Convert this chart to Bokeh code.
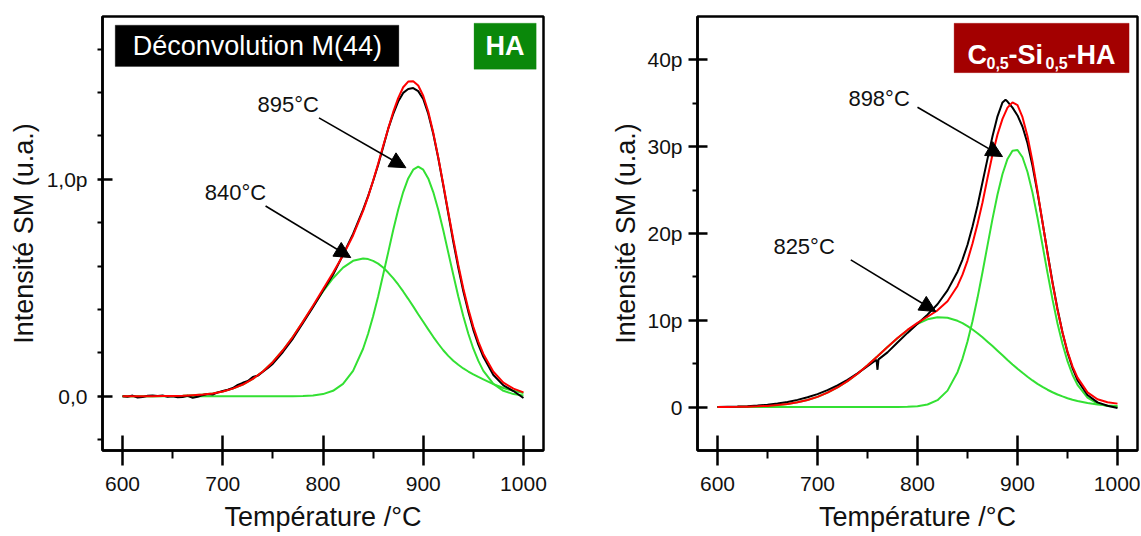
from bokeh.plotting import figure
from bokeh.models import Range1d, FixedTicker, Label, Arrow, NormalHead, BoxAnnotation
from bokeh.layouts import row
from bokeh.embed import file_html
from bokeh.resources import INLINE

FONT = "Liberation Sans"

# ---------------- data ----------------
temperature = [600, 610, 620, 630, 640, 650, 660, 670, 680, 690, 700, 710, 720, 730, 740,
               750, 760, 770, 780, 790, 800, 810, 820, 830, 840, 845, 850, 855, 860, 865,
               870, 875, 880, 885, 890, 895, 900, 905, 910, 915, 920, 925, 930, 935, 940,
               945, 950, 955, 960, 970, 980, 990, 1000]

# HA panel (pico units)
ha_peak840 = [0.000, 0.000, 0.000, 0.000, 0.001, 0.001, 0.002, 0.005, 0.008, 0.013, 0.022, 0.035,
              0.054, 0.080, 0.114, 0.158, 0.212, 0.274, 0.343, 0.414, 0.483, 0.544, 0.593, 0.624,
              0.635, 0.632, 0.624, 0.611, 0.593, 0.570, 0.544, 0.515, 0.483, 0.449, 0.414, 0.378,
              0.343, 0.308, 0.274, 0.242, 0.212, 0.186, 0.164, 0.145, 0.128, 0.114, 0.101, 0.089,
              0.078, 0.056, 0.038, 0.025, 0.015]
ha_peak895 = [0.000, 0.000, 0.000, 0.000, 0.000, 0.000, 0.000, 0.000, 0.000, 0.000, 0.000, 0.000,
              0.000, 0.000, 0.000, 0.000, 0.000, 0.000, 0.001, 0.003, 0.010, 0.025, 0.057, 0.117,
              0.219, 0.288, 0.369, 0.460, 0.560, 0.662, 0.765, 0.859, 0.941, 1.004, 1.044, 1.058,
              1.044, 1.004, 0.941, 0.859, 0.765, 0.662, 0.560, 0.460, 0.369, 0.288, 0.219, 0.163,
              0.117, 0.057, 0.025, 0.010, 0.003]
ha_fit = [0.000, 0.000, 0.000, 0.000, 0.001, 0.001, 0.002, 0.005, 0.008, 0.013, 0.022, 0.035,
          0.054, 0.080, 0.114, 0.158, 0.212, 0.274, 0.344, 0.417, 0.493, 0.569, 0.650, 0.741,
          0.854, 0.920, 0.993, 1.071, 1.153, 1.232, 1.309, 1.374, 1.424, 1.450, 1.452, 1.432,
          1.385, 1.312, 1.215, 1.101, 0.977, 0.848, 0.724, 0.605, 0.497, 0.402, 0.320, 0.252,
          0.195, 0.113, 0.063, 0.035, 0.018]
ha_meas_temp = [600, 605, 610, 615, 620, 625, 630, 635, 640, 645, 650, 655, 660, 665, 670, 675,
                680, 685, 690, 695, 700, 705, 710, 715, 720, 725, 730, 735, 740, 745, 750, 755,
                760, 770, 780, 790, 800, 810, 820, 830, 840, 845, 850, 855, 860, 865, 870, 875,
                880, 885, 890, 895, 900, 905, 910, 915, 920, 925, 930, 935, 940, 945, 950, 955,
                960, 970, 980, 990, 1000]
ha_meas = [0.000, -0.002, 0.003, -0.006, -0.004, 0.002, 0.004, 0.001, 0.003, -0.002, 0.000, -0.005,
           -0.003, 0.002, -0.007, -0.002, 0.005, 0.010, 0.008, 0.018, 0.024, 0.030, 0.038, 0.052,
           0.062, 0.070, 0.089, 0.095, 0.113, 0.130, 0.150, 0.177, 0.204, 0.266, 0.338, 0.410,
           0.486, 0.560, 0.652, 0.748, 0.860, 0.922, 0.992, 1.066, 1.148, 1.232, 1.300, 1.358,
           1.398, 1.416, 1.420, 1.406, 1.370, 1.302, 1.210, 1.098, 0.972, 0.842, 0.712, 0.592,
           0.484, 0.390, 0.306, 0.238, 0.182, 0.098, 0.050, 0.024, -0.008]

# C0,5-Si0,5-HA panel (pico units)
csi_peak825 = [0.01, 0.02, 0.03, 0.05, 0.09, 0.14, 0.23, 0.36, 0.55, 0.82, 1.18, 1.66, 2.26, 2.99,
               3.85, 4.82, 5.86, 6.92, 7.94, 8.86, 9.60, 10.11, 10.35, 10.29, 9.94, 9.67, 9.33,
               8.94, 8.51, 8.04, 7.54, 7.03, 6.50, 5.97, 5.43, 4.92, 4.43, 3.95, 3.50, 3.07, 2.68,
               2.33, 2.00, 1.71, 1.45, 1.23, 1.02, 0.85, 0.70, 0.47, 0.30, 0.19, 0.12]
csi_peak898 = [0.00, 0.00, 0.00, 0.00, 0.00, 0.00, 0.00, 0.00, 0.00, 0.00, 0.00, 0.00, 0.00, 0.00,
               0.00, 0.00, 0.00, 0.00, 0.01, 0.03, 0.10, 0.30, 0.80, 1.90, 4.02, 5.59, 7.55, 9.90,
               12.59, 15.54, 18.63, 21.68, 24.49, 26.86, 28.59, 29.54, 29.62, 28.78, 27.08, 24.71,
               21.81, 18.66, 15.47, 12.41, 9.64, 7.26, 5.29, 3.73, 2.56, 1.09, 0.41, 0.13, 0.04]
csi_fit = [0.01, 0.02, 0.03, 0.05, 0.09, 0.14, 0.23, 0.36, 0.55, 0.82, 1.18, 1.66, 2.26, 2.99,
           3.85, 4.82, 5.86, 6.92, 7.95, 8.89, 9.70, 10.41, 11.15, 12.19, 13.96, 15.26, 16.88,
           18.84, 21.10, 23.58, 26.40, 29.10, 31.40, 33.20, 34.50, 35.10, 34.80, 33.40, 31.20,
           28.30, 24.90, 21.30, 17.70, 14.30, 11.20, 8.60, 6.40, 4.70, 3.40, 1.70, 0.90, 0.55, 0.40]
csi_meas_temp = [600, 610, 620, 630, 640, 650, 660, 670, 680, 690, 700, 710, 720, 730, 740, 750,
                 759, 760, 761, 770, 780, 790, 800, 810, 820, 830, 840, 845, 850, 855, 860, 865,
                 870, 875, 880, 885, 888, 890, 895, 900, 905, 910, 915, 920, 925, 930, 935, 940,
                 945, 950, 955, 960, 970, 980, 990, 1000]
csi_meas = [0.00, 0.03, 0.06, 0.11, 0.18, 0.28, 0.41, 0.59, 0.83, 1.13, 1.50, 1.95, 2.50, 3.14,
            3.88, 4.70, 5.45, 4.30, 5.50, 6.30, 7.45, 8.55, 9.60, 10.65, 11.85, 13.45, 15.60,
            17.00, 18.70, 20.80, 23.20, 25.90, 28.60, 31.20, 33.50, 35.10, 35.40, 35.20, 34.50,
            33.60, 32.30, 30.40, 27.80, 24.70, 21.30, 17.80, 14.40, 11.30, 8.60, 6.30, 4.50, 3.10,
            1.40, 0.55, 0.15, -0.10]

x_ticks = [600, 700, 800, 900, 1000]
x_minor = [650, 750, 850, 950]
ha_y_ticks = [0, 1]
ha_y_minor = [-0.2, 0.2, 0.4, 0.6, 0.8, 1.2, 1.4, 1.6]
ha_y_labels = {0: "0,0", 1: "1,0p"}
csi_y_ticks = [0, 10, 20, 30, 40]
csi_y_minor = [5, 15, 25, 35]
csi_y_labels = {0: "0", 10: "10p", 20: "20p", 30: "30p", 40: "40p"}

GREEN = "#33e033"
RED = "#ff0000"


def make_panel(width, border_left, border_right, y_range, y_ticks, y_minor, y_labels,
               tick_out, tick_standoff, axis_label_standoff):
    p = figure(width=width, height=535, output_backend="svg", toolbar_location=None,
               x_range=Range1d(580, 1020), y_range=Range1d(*y_range),
               min_border_left=border_left, min_border_right=border_right,
               min_border_top=16, min_border_bottom=85)
    p.background_fill_color = "white"
    p.border_fill_color = "white"
    p.outline_line_color = "black"
    p.outline_line_width = 2.5
    p.xgrid.grid_line_color = None
    p.ygrid.grid_line_color = None

    xa = p.xaxis[0]
    xa.ticker = FixedTicker(ticks=x_ticks, minor_ticks=x_minor)
    xa.major_tick_in = 15
    xa.major_tick_out = 15
    xa.minor_tick_in = 0
    xa.minor_tick_out = 8
    xa.major_label_standoff = 11
    xa.axis_label = "Température /°C"
    xa.axis_label_standoff = 8

    ya = p.yaxis[0]
    ya.ticker = FixedTicker(ticks=y_ticks, minor_ticks=y_minor)
    ya.major_label_overrides = y_labels
    ya.major_tick_in = 10
    ya.major_tick_out = tick_out
    ya.minor_tick_in = 0
    ya.minor_tick_out = 5
    ya.major_label_standoff = tick_standoff
    ya.axis_label = "Intensité SM (u.a.)"
    ya.axis_label_standoff = axis_label_standoff

    for ax in (xa, ya):
        ax.axis_line_width = 2.5
        ax.axis_line_color = "black"
        ax.major_tick_line_width = 2.5
        ax.major_tick_line_color = "black"
        ax.minor_tick_line_width = 2
        ax.minor_tick_line_color = "black"
        ax.major_label_text_font = FONT
        ax.major_label_text_font_size = "21px"
        ax.major_label_text_color = "#111111"
        ax.axis_label_text_font = FONT
        ax.axis_label_text_font_size = "27px"
        ax.axis_label_text_font_style = "normal"
        ax.axis_label_text_color = "#111111"
    return p


def text_label(p, x, y, txt, size, color="#111111", bold=False, align="center",
               baseline="middle", x_offset=0):
    p.add_layout(Label(x=x, y=y, text=txt, text_font=FONT, text_font_size=size,
                       text_color=color, text_font_style="bold" if bold else "normal",
                       text_align=align, text_baseline=baseline, x_offset=x_offset))


def arrow(p, x0, y0, x1, y1):
    p.add_layout(Arrow(x_start=x0, y_start=y0, x_end=x1, y_end=y1, line_width=1.6,
                       line_color="black",
                       end=NormalHead(size=16, fill_color="black", line_color="black",
                                      line_width=1)))


# ---------------- left panel: HA ----------------
pl = make_panel(570, 102, 27, (-0.25, 1.75), ha_y_ticks, ha_y_minor, ha_y_labels, 5, 10, 5)
pl.line(temperature, ha_peak840, line_color=GREEN, line_width=2)
pl.line(temperature, ha_peak895, line_color=GREEN, line_width=2)
pl.line(ha_meas_temp, ha_meas, line_color="black", line_width=2)
pl.line(temperature, ha_fit, line_color=RED, line_width=2)

pl.add_layout(BoxAnnotation(left=592.7, right=875.7, bottom=1.520, top=1.710,
                            fill_color="black", fill_alpha=1, line_color="black"))
text_label(pl, 734.5, 1.615, "Déconvolution M(44)", "27px", color="white")
pl.add_layout(BoxAnnotation(left=950.7, right=1012.7, bottom=1.507, top=1.719,
                            fill_color="#0a880a", fill_alpha=1, line_color="#0a880a"))
text_label(pl, 981.7, 1.613, "HA", "27px", color="white", bold=True)

text_label(pl, 765.2, 1.346, "895°C", "22px")
arrow(pl, 796.0, 1.283, 882.7, 1.053)
text_label(pl, 712.7, 0.938, "840°C", "22px")
arrow(pl, 742.7, 0.877, 827.7, 0.639)

# ---------------- right panel: C0,5-Si0,5-HA ----------------
pr = make_panel(570, 127, 3, (-5, 45), csi_y_ticks, csi_y_minor, csi_y_labels, 9, 6, 3)
pr.line(temperature, csi_peak825, line_color=GREEN, line_width=2)
pr.line(temperature, csi_peak898, line_color=GREEN, line_width=2)
pr.line(csi_meas_temp, csi_meas, line_color="black", line_width=2)
pr.line(temperature, csi_fit, line_color=RED, line_width=2)

pr.add_layout(BoxAnnotation(left=836.6, right=1011.6, bottom=38.53, top=44.22,
                            fill_color="#a30000", fill_alpha=1, line_color="#a30000"))
base_x = 850.0
text_label(pr, base_x, 40.57, "C", "27px", color="white", bold=True, align="left",
           baseline="alphabetic", x_offset=0)
text_label(pr, base_x, 39.6, "0,5", "16px", color="white", bold=True, align="left",
           baseline="alphabetic", x_offset=19)
text_label(pr, base_x, 40.57, "-Si", "27px", color="white", bold=True, align="left",
           baseline="alphabetic", x_offset=41)
text_label(pr, base_x, 39.6, "0,5", "16px", color="white", bold=True, align="left",
           baseline="alphabetic", x_offset=78)
text_label(pr, base_x, 40.57, "-HA", "27px", color="white", bold=True, align="left",
           baseline="alphabetic", x_offset=100)

text_label(pr, 761.6, 35.59, "898°C", "22px")
arrow(pr, 800.0, 34.55, 885.0, 28.86)
text_label(pr, 686.6, 18.50, "825°C", "22px")
arrow(pr, 733.3, 16.96, 818.3, 11.01)

layout = row(pl, pr)
open("out.html", "w").write(file_html(layout, INLINE))
